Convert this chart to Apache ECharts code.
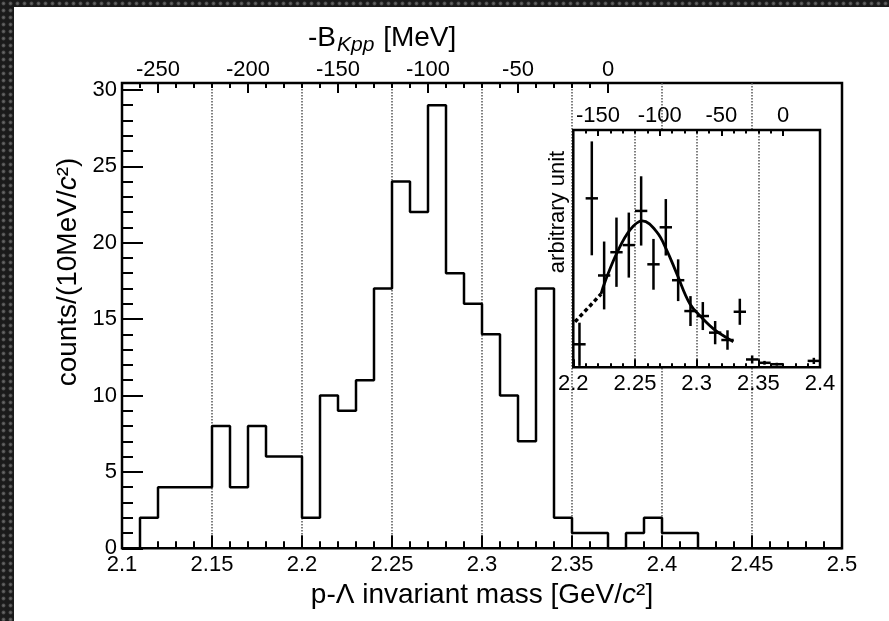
<!DOCTYPE html>
<html><head><meta charset="utf-8">
<script src="https://cdn.jsdelivr.net/npm/echarts@6/dist/echarts.min.js"></script>
<style>
html,body{margin:0;padding:0;width:889px;height:621px;overflow:hidden;
background-color:#1e1e1e;
background-image:radial-gradient(circle at 50% 50%, #6a6a6a 0, #4c4c4c 30%, #1a1a1a 48%, #1a1a1a 100%);
background-size:7px 7px;}
#chart{position:absolute;left:14px;top:7px;width:875px;height:614px;background:#fff;}
</style></head><body><div id="chart"></div>
<script>
// ---------------- data ----------------
const binStart = 2.10;            // GeV, lower edge of first bin
const binWidth = 0.01;            // GeV (10 MeV/c^2)
const counts = [0, 2, 4, 4, 4, 8, 4, 8, 6, 6,
                2, 10, 9, 11, 17, 24, 22, 29, 18, 16,
                14, 10, 7, 17, 2, 1, 1, 0, 1, 2,
                1, 1, 0, 0, 0, 0, 0, 0, 0, 0];
const bottomTicks = [2.1, 2.15, 2.2, 2.25, 2.3, 2.35, 2.4, 2.45, 2.5];
const leftTicks = [0, 5, 10, 15, 20, 25, 30];
const topTicksMeV = [-250, -200, -150, -100, -50, 0];
const insetBottomTicks = [2.2, 2.25, 2.3, 2.35, 2.4];
const insetTopTicksMeV = [-150, -100, -50, 0];
const thresholdGeV = 2.370;       // K- p p mass threshold -> B = 0

const insetMass  = [2.205, 2.215, 2.225, 2.235, 2.245, 2.255, 2.265, 2.275, 2.285,
                    2.295, 2.305, 2.315, 2.325, 2.335, 2.345, 2.355, 2.365, 2.395];
const insetValue = [9.7, 71.2, 38.7, 48.5, 51.5, 65.9, 43.4, 59.0, 36.7,
                    23.7, 21.6, 14.6, 11.5, 23.4, 3.3, 1.9, 1.3, 2.7];
const insetError = [9.1, 24.0, 14.3, 14.6, 13.7, 14.6, 10.7, 11.9, 8.8,
                    6.3, 5.9, 4.9, 4.1, 5.5, 1.7, 0.8, 0.6, 1.3];
const insetHalfBin = 0.005;

const fitDottedMass  = [2.2014, 2.2119, 2.2225];
const fitDottedValue = [19.2, 25.0, 30.9];
const fitMass  = [2.2225, 2.2257, 2.2352, 2.2460, 2.2559, 2.2676, 2.2757, 2.2838,
                  2.2946, 2.3048, 2.3149, 2.3252, 2.3297];
const fitValue = [30.9, 36.0, 48.0, 57.9, 61.7, 57.1, 49.4, 39.6,
                  26.7, 20.6, 15.7, 12.2, 10.8];

// ---------------- layout ----------------
const FONT = '"Liberation Sans", Arial, Helvetica, sans-serif';
const OX = 14, OY = 7;
const MAIN  = {x0: 122, x1: 842, y0: 83, y1: 548.3};
const INSET = {x0: 573.3, x1: 820, y0: 130, y1: 367.3};
const mainXRange = [2.1, 2.5], mainYRange = [0, 30.45];
const insetXRange = [2.2, 2.4], insetYRange = [0, 100];
const toMeV = m => Math.round((m - thresholdGeV) * 1000);

function minorList(lo, hi, step, majors) {
  const out = [];
  const n = Math.round((hi - lo) / step);
  for (let i = 0; i <= n; i++) {
    const v = +(lo + i * step).toFixed(4);
    if (!majors.some(m => Math.abs(m - v) < 1e-6)) out.push(v);
  }
  return out;
}
function gridOf(b, extra) {
  return Object.assign({left: b.x0 - OX, top: b.y0 - OY, width: b.x1 - b.x0, height: b.y1 - b.y0,
    show: true, borderColor: '#000', borderWidth: 2.5, backgroundColor: 'transparent'}, extra || {});
}
function axis(o) {
  return {
    type: 'value', gridIndex: o.grid, position: o.pos, min: o.min, max: o.max, z: o.z || 0,
    axisLine: {show: false, onZero: false},
    axisTick: {show: !!o.tickLen, inside: true, length: o.tickLen || 0, customValues: o.ticks,
               lineStyle: {color: '#000', width: 2}},
    axisLabel: o.labels ? {show: true, customValues: o.labels, formatter: o.fmt || (v => String(+(+v).toFixed(3))),
               fontSize: o.fs || 22, fontFamily: FONT, color: '#000', margin: o.margin} : {show: false},
    splitLine: o.split ? {show: true, lineStyle: {type: 'dotted', color: '#555', width: 1.5}} : {show: false},
    name: o.name || '', nameLocation: 'middle', nameGap: o.nameGap || 0,
    nameTextStyle: o.nameStyle || {}
  };
}

const mainTopMin = toMeV(mainXRange[0]), mainTopMax = toMeV(mainXRange[1]);
const insetTopMin = toMeV(insetXRange[0]), insetTopMax = toMeV(insetXRange[1]);

const xAxes = [
  axis({grid: 0, pos: 'bottom', min: mainXRange[0], max: mainXRange[1], ticks: bottomTicks, tickLen: 13,
        labels: bottomTicks, margin: 6,
        name: 'p-Λ invariant mass [GeV/{i|c}²]', nameGap: 31,
        nameStyle: {fontSize: 28, fontFamily: FONT, color: '#000',
                    rich: {i: {fontSize: 28, fontStyle: 'italic', fontFamily: FONT, color: '#000'}}}}),
  axis({grid: 0, pos: 'bottom', min: mainXRange[0], max: mainXRange[1],
        ticks: minorList(2.1, 2.5, 0.01, bottomTicks), tickLen: 7}),
  axis({grid: 0, pos: 'bottom', min: mainXRange[0], max: mainXRange[1],
        ticks: bottomTicks.slice(1, -1), split: true}),
  axis({grid: 0, pos: 'top', min: mainTopMin, max: mainTopMax, ticks: topTicksMeV, tickLen: 10,
        labels: topTicksMeV, margin: 2, fmt: v => String(Math.round(v))}),
  axis({grid: 0, pos: 'top', min: mainTopMin, max: mainTopMax,
        ticks: minorList(-260, 0, 10, topTicksMeV), tickLen: 5}),
  axis({grid: 1, pos: 'bottom', min: insetXRange[0], max: insetXRange[1], ticks: insetBottomTicks, tickLen: 8,
        labels: insetBottomTicks, margin: 6, z: 4}),
  axis({grid: 1, pos: 'bottom', min: insetXRange[0], max: insetXRange[1],
        ticks: minorList(2.2, 2.4, 0.01, insetBottomTicks), tickLen: 4, z: 4}),
  axis({grid: 1, pos: 'bottom', min: insetXRange[0], max: insetXRange[1],
        ticks: insetBottomTicks.slice(1, -1), split: true, z: 4}),
  axis({grid: 1, pos: 'top', min: insetTopMin, max: insetTopMax, ticks: insetTopTicksMeV, tickLen: 6,
        labels: insetTopTicksMeV, margin: 3, fmt: v => String(Math.round(v)), z: 4}),
  axis({grid: 1, pos: 'top', min: insetTopMin, max: insetTopMax,
        ticks: minorList(-160, 0, 10, insetTopTicksMeV), tickLen: 3.5, z: 4})
];
const yAxes = [
  axis({grid: 0, pos: 'left', min: mainYRange[0], max: mainYRange[1], ticks: leftTicks, tickLen: 21,
        labels: leftTicks, margin: 5}),
  axis({grid: 0, pos: 'left', min: mainYRange[0], max: mainYRange[1],
        ticks: minorList(0, 30, 1, leftTicks), tickLen: 11}),
  axis({grid: 1, pos: 'left', min: insetYRange[0], max: insetYRange[1], z: 4})
];

// histogram outline from bin edges
const histData = counts.map((c, i) => [+(binStart + i * binWidth).toFixed(3), c]);
histData.push([+(binStart + counts.length * binWidth).toFixed(3), counts[counts.length - 1]]);

const option = {
  animation: false,
  backgroundColor: '#fff',
  grid: [gridOf(MAIN, {z: 0}), gridOf(INSET, {z: 3, backgroundColor: '#fff'})],
  xAxis: xAxes,
  yAxis: yAxes,
  graphic: [
    {type: 'text', x: 308 - OX, y: 38 - OY, z: 10,
     style: {text: '-B{sub|Kpp} [MeV]', fontSize: 28, fontFamily: FONT, fill: '#000',
             align: 'left', verticalAlign: 'middle',
             rich: {sub: {fontSize: 21, fontStyle: 'italic', fontFamily: FONT, fill: '#000', padding: [14, 1, 0, 1]}}}},
    {type: 'text', x: 68 - OX, y: 272 - OY, rotation: Math.PI / 2, z: 10,
     style: {text: 'counts/(10MeV/{i|c}²)', fontSize: 28, fontFamily: FONT, fill: '#000',
             align: 'center', verticalAlign: 'middle',
             rich: {i: {fontSize: 28, fontStyle: 'italic', fontFamily: FONT, fill: '#000'}}}},
    {type: 'text', x: 558 - OX, y: 212 - OY, rotation: Math.PI / 2, z: 10,
     style: {text: 'arbitrary unit', fontSize: 22, fontFamily: FONT, fill: '#000',
             align: 'center', verticalAlign: 'middle'}}
  ],
  series: [
    {type: 'line', xAxisIndex: 0, yAxisIndex: 0, step: 'end', symbol: 'none', z: 2,
     lineStyle: {color: '#000', width: 2.5}, data: histData},
    {type: 'custom', xAxisIndex: 5, yAxisIndex: 2, z: 6,
     data: insetMass.map((m, i) => [m, insetValue[i], insetError[i]]),
     encode: {x: 0, y: 1},
     renderItem: function (params, api) {
       const x = api.value(0), y = api.value(1), e = api.value(2);
       const pL = api.coord([x - insetHalfBin, y]), pR = api.coord([x + insetHalfBin, y]);
       const pT = api.coord([x, y + e]), pB = api.coord([x, Math.max(0, y - e)]);
       return {type: 'group', children: [
         {type: 'line', shape: {x1: pL[0], y1: pL[1], x2: pR[0], y2: pR[1]}, style: {stroke: '#000', lineWidth: 2.5}},
         {type: 'line', shape: {x1: pT[0], y1: pT[1], x2: pB[0], y2: pB[1]}, style: {stroke: '#000', lineWidth: 2.5}}
       ]};
     }},
    {type: 'line', xAxisIndex: 5, yAxisIndex: 2, smooth: 0.4, symbol: 'none', z: 6,
     lineStyle: {color: '#000', width: 2.8}, data: fitMass.map((m, i) => [m, fitValue[i]])},
    {type: 'line', xAxisIndex: 5, yAxisIndex: 2, symbol: 'none', z: 6,
     lineStyle: {color: '#000', width: 3.5, type: [4, 3]}, data: fitDottedMass.map((m, i) => [m, fitDottedValue[i]])}
  ]
};
const chart = echarts.init(document.getElementById('chart'));
chart.setOption(option);
</script></body></html>
